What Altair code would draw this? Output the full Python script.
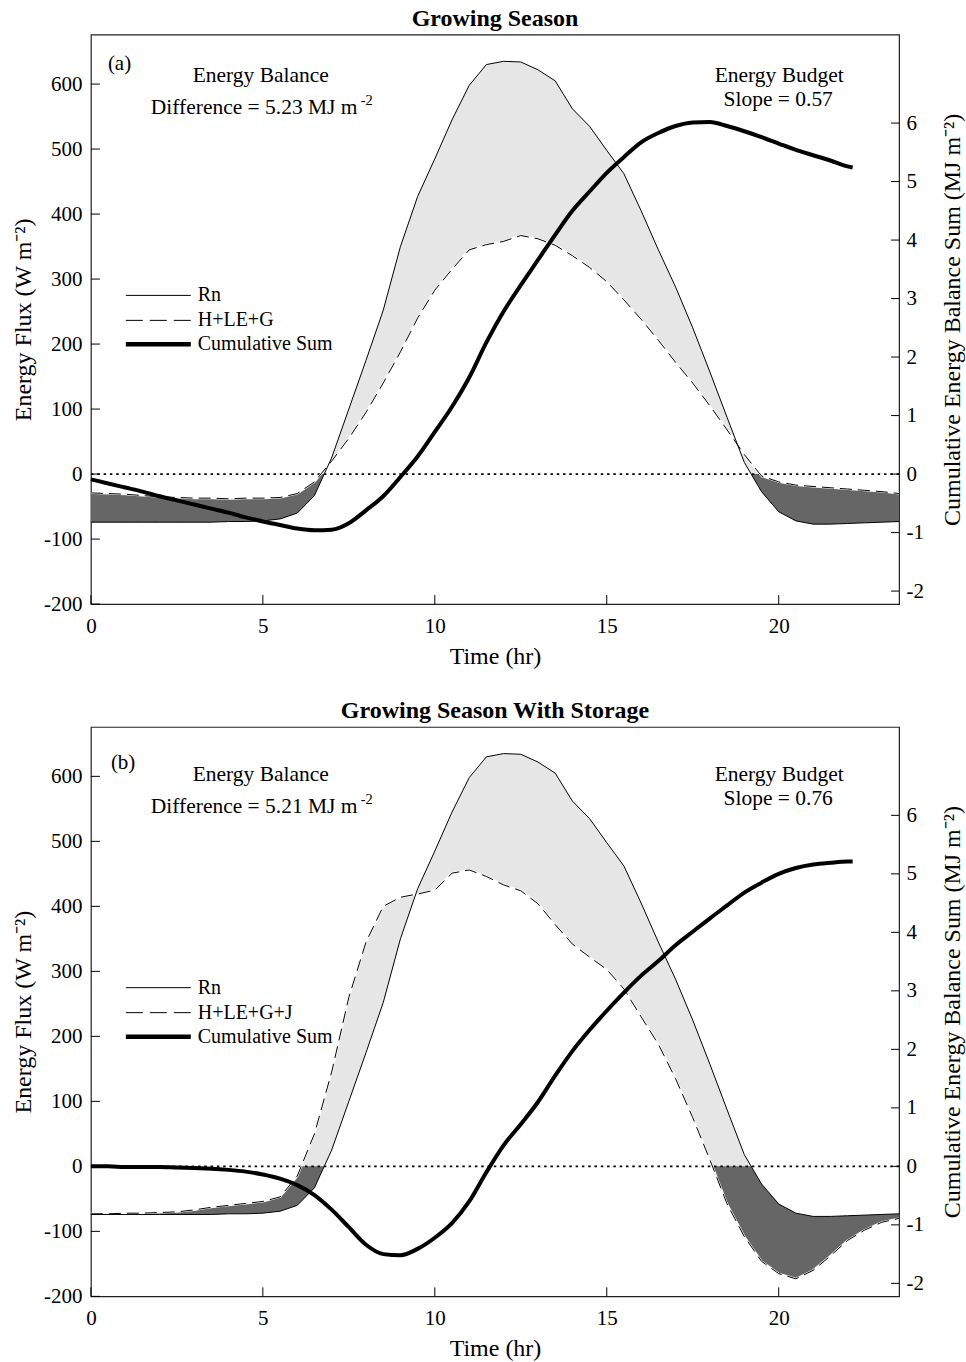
import altair as alt
import pandas as pd
import numpy as np

# ---------------- data ----------------
hours = [0, 0.5, 1, 1.5, 2, 2.5, 3, 3.5, 4, 4.5, 5, 5.5, 6, 6.5, 7, 7.5, 8, 8.5,
         9, 9.5, 10, 10.5, 11, 11.5, 12, 12.5, 13, 13.5, 14, 14.5, 15, 15.5,
         16, 16.5, 17, 17.5, 18, 18.5, 19, 19.5, 20, 20.5, 21, 21.5, 22, 22.5,
         23, 23.5]

rn = [-74, -74, -74, -74, -74, -74, -74, -74, -73, -73, -72, -69, -60, -33,
      25, 100, 175, 252, 350, 427, 485, 545, 598, 630, 635, 634, 622, 605,
      562, 535, 498, 462, 405, 345, 288, 225, 157, 87, 18, -27, -58, -72,
      -77, -77, -76, -75, -74, -73]

hleg = [-29, -30, -31, -33, -35, -36, -37, -37, -38, -37, -37, -36, -30, -12,
        20, 55, 95, 140, 188, 240, 283, 315, 345, 353, 358, 367, 362, 352,
        336, 318, 296, 268, 238, 206, 172, 140, 105, 68, 30, -3, -12, -17,
        -19, -21, -23, -25, -27, -30]

hlegj = [-73, -73, -72, -72, -71, -70, -67, -63, -60, -57, -54, -47, -15, 50,
         145, 260, 345, 400, 414, 419, 425, 451, 456, 446, 433, 424, 404, 372,
         342, 322, 303, 273, 230, 188, 135, 75, 10, -58, -108, -146, -165, -173,
         -160, -138, -114, -98, -86, -80]

cum_hours = [0, 0.5, 1, 1.5, 2, 2.5, 3, 3.5, 4, 4.5, 5, 5.5, 6, 6.5, 7, 7.5, 8,
             8.5, 9, 9.5, 10, 10.5, 11, 11.5, 12, 12.5, 13, 13.5, 14, 14.5, 15,
             15.5, 16, 16.5, 17, 17.5, 18, 18.5, 19, 19.5, 20, 20.5, 21, 21.5,
             22, 22.15]

cum_a = [-0.09, -0.16, -0.23, -0.30, -0.38, -0.45, -0.52, -0.59, -0.66, -0.74,
         -0.81, -0.87, -0.93, -0.96, -0.95, -0.84, -0.62, -0.38, -0.05, 0.30,
         0.72, 1.15, 1.65, 2.25, 2.78, 3.23, 3.66, 4.09, 4.50, 4.83, 5.15,
         5.42, 5.67, 5.83, 5.95, 6.01, 6.02, 5.95, 5.86, 5.76, 5.65, 5.54,
         5.45, 5.36, 5.26, 5.24]

cum_b = [0.0, 0.0, -0.01, -0.01, -0.01, -0.02, -0.03, -0.04, -0.06, -0.09,
         -0.14, -0.21, -0.32, -0.49, -0.74, -1.04, -1.34, -1.50, -1.52, -1.41,
         -1.22, -0.97, -0.60, -0.10, 0.36, 0.72, 1.10, 1.55, 1.97, 2.33, 2.66,
         2.97, 3.26, 3.51, 3.78, 4.01, 4.24, 4.46, 4.68, 4.85, 5.00, 5.10,
         5.16, 5.19, 5.21, 5.21]

x_ticks = [0, 5, 10, 15, 20]
y_ticks = [-200, -100, 0, 100, 200, 300, 400, 500, 600]
y2_ticks = [-2, -1, 0, 1, 2, 3, 4, 5, 6]

# ---------------- styling ----------------
W, H = 809, 570
FONT = "Liberation Serif"
LIGHT = "#e6e6e6"
DARK = "#666666"
X_DOMAIN = [0, 23.5]
Y_DOMAIN = [-200, 676]
Y2_DOMAIN = [-200 / 90, 676 / 90]

xscale = alt.Scale(domain=X_DOMAIN, nice=False, zero=False)
yscale = alt.Scale(domain=Y_DOMAIN, nice=False, zero=False)
y2scale = alt.Scale(domain=Y2_DOMAIN, nice=False, zero=False)

xaxis = alt.Axis(values=x_ticks, title="Time (hr)", ticks=False, domain=False,
                 grid=False, labelPadding=11, titlePadding=8, labelFlush=False,
                 labelExpr="toString(datum.value)")
yaxis = alt.Axis(values=y_ticks, title="Energy Flux (W m\u207b\u00b2)",
                 ticks=False, domain=False, grid=False, labelPadding=9,
                 titlePadding=8, labelFlush=False,
                 labelExpr="toString(datum.value)")
y2axis = alt.Axis(values=y2_ticks, orient="right",
                  title="Cumulative Energy Balance Sum (MJ m\u207b\u00b2)",
                  titleAngle=270, titleBaseline="top", ticks=False,
                  domain=False, grid=False, labelFlush=False,
                  labelPadding=7, titlePadding=17,
                  labelExpr="toString(datum.value)")


def X(field):
    return alt.X(field, type="quantitative", scale=xscale, axis=xaxis)


def Y(field):
    return alt.Y(field, type="quantitative", scale=yscale, axis=yaxis)


def Y2R(field):
    return alt.Y(field, type="quantitative", scale=y2scale, axis=y2axis)


one = pd.DataFrame({"a": [0]})


def txt(text, x, y, size=21.5, align="left", baseline="alphabetic"):
    return alt.Chart(one).mark_text(
        font=FONT, fontSize=size, align=align, baseline=baseline, color="black"
    ).encode(x=alt.value(x), y=alt.value(y), text=alt.value(text))


def panel(title, tag, dname, dvals, cvals, diff, slope, dy, tagx):
    df = pd.DataFrame({"t": hours, "rn": rn, "d": dvals})
    # fill band between Rn and the flux sum, split at zero
    tf = np.linspace(0, 23.5, 941)
    rf = np.interp(tf, hours, rn)
    dff = np.interp(tf, hours, dvals)
    lo = np.minimum(rf, dff)
    hi = np.maximum(rf, dff)
    fill = pd.DataFrame({"t": tf, "l1": np.maximum(lo, 0), "h1": np.maximum(hi, 0),
                         "l2": np.minimum(lo, 0), "h2": np.minimum(hi, 0)})
    cdf = pd.DataFrame({"t": cum_hours, "c": cvals})

    light = alt.Chart(fill).mark_area(color=LIGHT, opacity=1).encode(
        x=X("t"), y=Y("l1"), y2=alt.Y2("h1"))
    dark = alt.Chart(fill).mark_area(color=DARK, opacity=1).encode(
        x=X("t"), y=Y("l2"), y2=alt.Y2("h2"))
    zero = alt.Chart(pd.DataFrame({"v": [0]})).mark_rule(
        color="black", strokeWidth=1.8, strokeDash=[2.5, 3.8]).encode(y=Y("v"))
    under = alt.Chart(df).mark_line(color="white", strokeWidth=2).encode(
        x=X("t"), y=Y("d"))
    dash = alt.Chart(df).mark_line(color="black", strokeWidth=1,
                                   strokeDash=[12, 6]).encode(x=X("t"), y=Y("d"))
    rnl = alt.Chart(df).mark_line(color="black", strokeWidth=1).encode(
        x=X("t"), y=Y("rn"))
    yt = alt.Chart(pd.DataFrame({"v": y_ticks})).mark_rule(
        color="black", strokeWidth=1).encode(y=Y("v"), x=alt.value(0), x2=alt.value(9))
    xt = alt.Chart(pd.DataFrame({"v": x_ticks})).mark_rule(
        color="black", strokeWidth=1).encode(x=X("v"), y=alt.value(H), y2=alt.value(H - 9))

    # legend
    ly = [261, 286, 310]
    leg = [
        alt.Chart(one).mark_rule(color="black", strokeWidth=1).encode(
            x=alt.value(35), x2=alt.value(100), y=alt.value(ly[0])),
        alt.Chart(one).mark_rule(color="black", strokeWidth=1, strokeDash=[17, 7]).encode(
            x=alt.value(35), x2=alt.value(100), y=alt.value(ly[1])),
        alt.Chart(one).mark_rule(color="black", strokeWidth=4.5).encode(
            x=alt.value(35), x2=alt.value(100), y=alt.value(ly[2])),
        txt("Rn", 107, ly[0], 20, baseline="middle"),
        txt(dname, 107, ly[1], 20, baseline="middle"),
        txt("Cumulative Sum", 107, ly[2], 20, baseline="middle"),
    ]
    ann = [
        txt(tag, tagx, 35 + dy, 21),
        txt("Energy Balance", 170, 47 + dy, align="center"),
        txt("Difference = %s MJ m" % diff, 60, 79 + dy),
        txt("-2", 270, 70 + dy, 14.5),
        txt("Energy Budget", 689, 47 + dy, align="center"),
        txt("Slope = %s" % slope, 688, 71 + dy, align="center"),
    ]

    left = alt.layer(light, dark, zero, under, dash, rnl, yt, xt, *leg, *ann)

    cum = alt.Chart(cdf).mark_line(color="black", strokeWidth=4,
                                   interpolate="monotone").encode(
        x=X("t"), y=Y2R("c"))
    rt = alt.Chart(pd.DataFrame({"v": y2_ticks})).mark_rule(
        color="black", strokeWidth=1).encode(y=Y2R("v"), x=alt.value(W - 8), x2=alt.value(W))
    right = alt.layer(cum, rt)

    return alt.layer(left, right).resolve_scale(y="independent").properties(
        width=W, height=H,
        title=alt.TitleParams(title, font=FONT, fontSize=24, fontWeight="bold",
                              color="black", offset=4, anchor="middle"))


pa = panel("Growing Season", "(a)", "H+LE+G", hleg, cum_a, "5.23", "0.57", 0, 17)
pb = panel("Growing Season With Storage", "(b)", "H+LE+G+J", hlegj, cum_b,
           "5.21", "0.76", 7, 20)

chart = alt.vconcat(pa, pb, spacing=29).properties(
    padding={"left": 10, "top": 5, "right": 0, "bottom": 0},
    background="white",
).configure_view(stroke="#222222", strokeWidth=1.2).configure_axis(
    labelFont=FONT, labelFontSize=21, labelColor="black",
    titleFont=FONT, titleFontSize=24, titleFontWeight="normal", titleColor="black",
).configure_title(font=FONT)

chart.save("out.html", embed_options={"renderer": "svg", "actions": False})
